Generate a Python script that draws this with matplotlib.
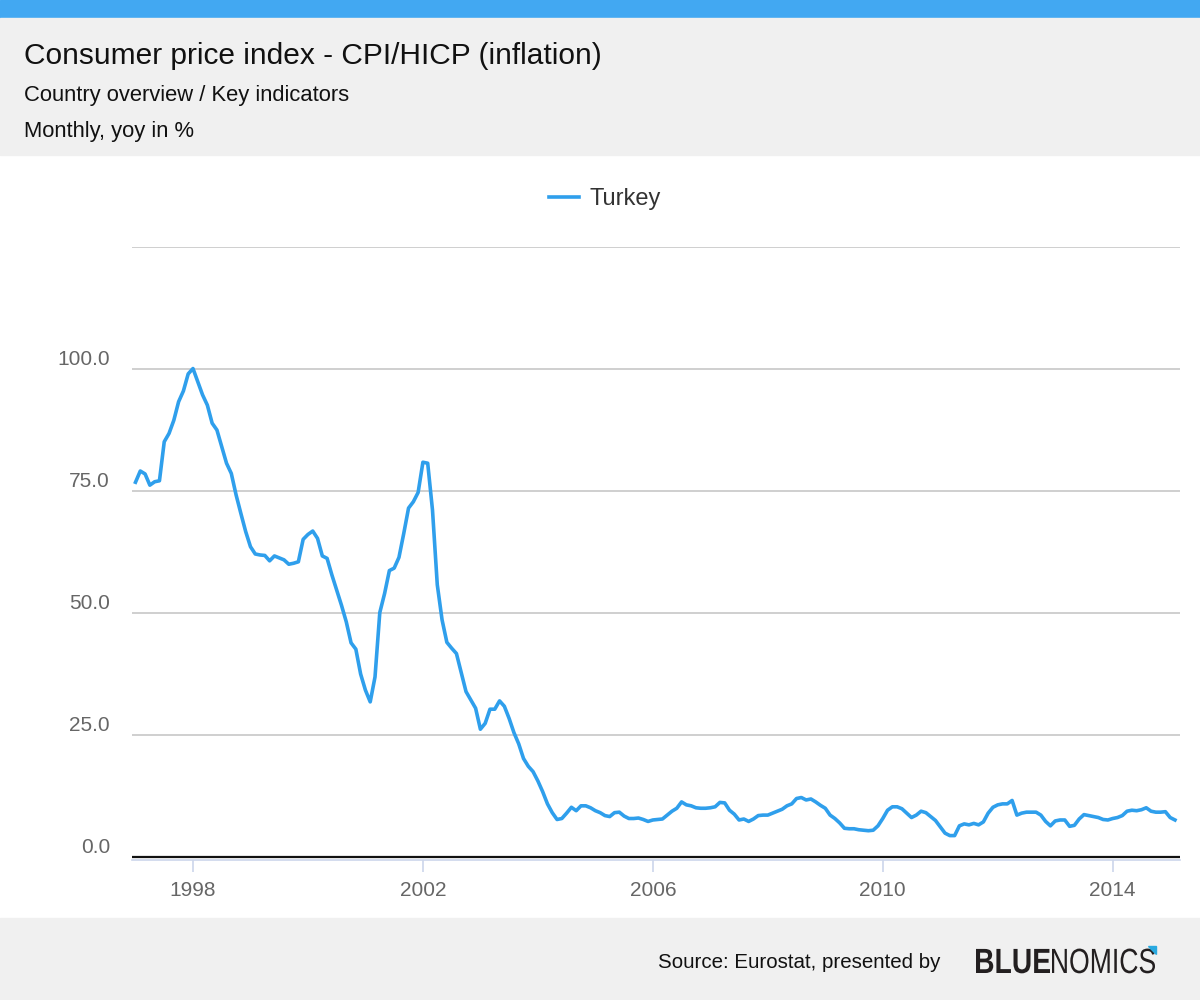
import matplotlib
matplotlib.use("Agg")
import matplotlib.pyplot as plt
from matplotlib.patches import Rectangle, Polygon, PathPatch
from matplotlib.transforms import ScaledTranslation, Affine2D
from matplotlib.textpath import TextPath
from matplotlib.font_manager import FontProperties
import numpy as np

# Turkey, CPI/HICP yoy in %, monthly from Jan 1997
start_year = 1997
turkey_cpi = [
    76.8, 79.1, 78.5, 76.2, 76.9, 77.1, 85.1, 86.8, 89.5, 93.3, 95.5, 99.0,   # 1997
    100.1, 97.4, 94.7, 92.6, 88.9, 87.5, 84.1, 80.7, 78.6, 74.2, 70.4, 66.7,  # 1998
    63.6, 62.1, 61.9, 61.8, 60.7, 61.7, 61.3, 60.9, 60.0, 60.2, 60.5, 65.1,   # 1999
    66.1, 66.8, 65.3, 61.7, 61.2, 57.8, 54.7, 51.6, 48.2, 43.9, 42.6, 37.5,   # 2000
    34.2, 31.8, 36.9, 50.1, 54.0, 58.7, 59.2, 61.4, 66.3, 71.5, 72.8, 74.7,   # 2001
    80.9, 80.7, 71.1, 55.8, 48.6, 44.0, 42.8, 41.7, 37.8, 33.9, 32.2, 30.5,   # 2002
    26.2, 27.4, 30.3, 30.3, 32.0, 30.9, 28.4, 25.5, 23.2, 20.2, 18.6, 17.5,   # 2003
    15.6, 13.4, 10.9, 9.1, 7.7, 7.9, 9.0, 10.2, 9.5, 10.5, 10.5, 10.1,        # 2004
    9.5, 9.1, 8.5, 8.3, 9.1, 9.2, 8.4, 7.9, 7.9, 8.0, 7.7, 7.3,               # 2005
    7.6, 7.7, 7.8, 8.6, 9.4, 10.0, 11.3, 10.7, 10.5, 10.1, 10.0, 10.0,        # 2006
    10.1, 10.3, 11.2, 11.1, 9.6, 8.8, 7.6, 7.8, 7.3, 7.8, 8.5, 8.6,           # 2007
    8.6, 9.0, 9.4, 9.8, 10.5, 10.9, 12.0, 12.2, 11.7, 11.9, 11.3, 10.6,       # 2008
    10.0, 8.6, 7.9, 7.0, 5.9, 5.8, 5.8, 5.6, 5.5, 5.4, 5.5, 6.4,              # 2009
    7.9, 9.6, 10.3, 10.3, 9.9, 9.0, 8.1, 8.6, 9.4, 9.1, 8.3, 7.5,             # 2010
    6.2, 4.9, 4.4, 4.4, 6.4, 6.8, 6.6, 6.9, 6.6, 7.2, 9.0, 10.2,              # 2011
    10.7, 10.9, 10.9, 11.6, 8.6, 9.0, 9.2, 9.2, 9.2, 8.6, 7.3, 6.4,           # 2012
    7.4, 7.6, 7.6, 6.3, 6.5, 7.8, 8.7, 8.5, 8.3, 8.1, 7.7, 7.6,               # 2013
    7.9, 8.1, 8.5, 9.4, 9.6, 9.5, 9.7, 10.1, 9.4, 9.2, 9.2, 9.3,              # 2014
    8.1, 7.6,                                                                 # 2015
]
year_ticks = [1998, 2002, 2006, 2010, 2014]
value_ticks = [0, 25, 50, 75, 100]
value_labels = ["0.0", "25.0", "50.0", "75.0", "100.0"]
series_name = "Turkey"

plt.rcParams["font.family"] = ["Liberation Sans", "DejaVu Sans"]

W, H = 1200, 1000
fig = plt.figure(figsize=(12, 10), dpi=100)
fig.patch.set_facecolor("white")


def band(y0, y1, color):
    # y in pixels from the top
    fig.add_artist(Rectangle((0, 1 - y1 / H), 1, (y1 - y0) / H,
                             transform=fig.transFigure, color=color, zorder=0))


def logo_word(text, weight, left, width, baseline, size=35):
    # squeeze a word horizontally to fit the given pixel width
    tp = TextPath((0, 0), text, size=size,
                  prop=FontProperties(family="Liberation Sans", weight=weight))
    ext = tp.get_extents()
    sx = width / ext.width
    tr = Affine2D().translate(-ext.x0, 0).scale(sx / W, 1 / H) \
        .translate(left / W, 1 - baseline / H) + fig.transFigure
    fig.add_artist(PathPatch(tp, transform=tr, color="#231f20", lw=0))


band(0, 18, "#42a8f2")
band(18, 155, "#f0f0f0")
band(918, 1000, "#f0f0f0")

fig.text(24 / W, 1 - 56 / H, "Consumer price index - CPI/HICP (inflation)",
         fontsize=21.5, color="#111111", va="center", ha="left")
fig.text(24 / W, 1 - 96 / H, "Country overview / Key indicators",
         fontsize=15.8, color="#111111", va="center", ha="left")
fig.text(24 / W, 1 - 132 / H, "Monthly, yoy in %",
         fontsize=15.8, color="#111111", va="center", ha="left")

# plot area
ax = fig.add_axes([132 / W, 1 - 860 / H, 1048 / W, (860 - 247) / H])
x = start_year + np.arange(len(turkey_cpi)) / 12.0
ax.plot(x, turkey_cpi, color="#2f9fec", lw=2.6, label=series_name,
        solid_joinstyle="round", zorder=3)

ax.set_xlim(start_year - 0.73 / 12, start_year + 218.05 / 12)
ax.set_ylim(-0.6, 125)

ax.set_yticks(value_ticks + [125])
ax.set_yticklabels(value_labels + [""])
ax.yaxis.grid(True, color="#cccccc", lw=1.3)
ax.axhline(0, color="#111111", lw=1.6, zorder=2)
ax.tick_params(axis="y", length=0, pad=15.8, labelsize=15, labelcolor="#666666")
for lab in ax.get_yticklabels():
    lab.set_transform(lab.get_transform() + ScaledTranslation(0, 12 / 100, fig.dpi_scale_trans))

ax.set_xticks(year_ticks)
ax.set_xticklabels([str(y) for y in year_ticks])
ax.tick_params(axis="x", length=8.6, width=1.2, color="#ccd6eb", pad=6.5,
               labelsize=15, labelcolor="#666666")

for side in ["top", "left", "right"]:
    ax.spines[side].set_visible(False)
ax.spines["bottom"].set_color("#ccd6eb")
ax.spines["bottom"].set_linewidth(1.2)
ax.set_axisbelow(True)

fig.legend(loc="center", bbox_to_anchor=(605 / W, 1 - 199 / H), frameon=False,
           fontsize=17, handlelength=1.3, handletextpad=0.45, labelcolor="#333333")

# footer
fig.text(940 / W, 1 - 963 / H, "Source: Eurostat, presented by",
         fontsize=14.8, color="#111111", va="center", ha="right")
logo_word("BLUE", "bold", 976, 74, 973)
logo_word("NOMICS", "normal", 1052, 103, 973)
tri = [(1148, 946), (1156, 946), (1156, 954)]
fig.add_artist(Polygon([(px / W, 1 - py / H) for px, py in tri], closed=True,
                       transform=fig.transFigure, color="#29a9e0"))

fig.savefig("out.png", dpi=100)
